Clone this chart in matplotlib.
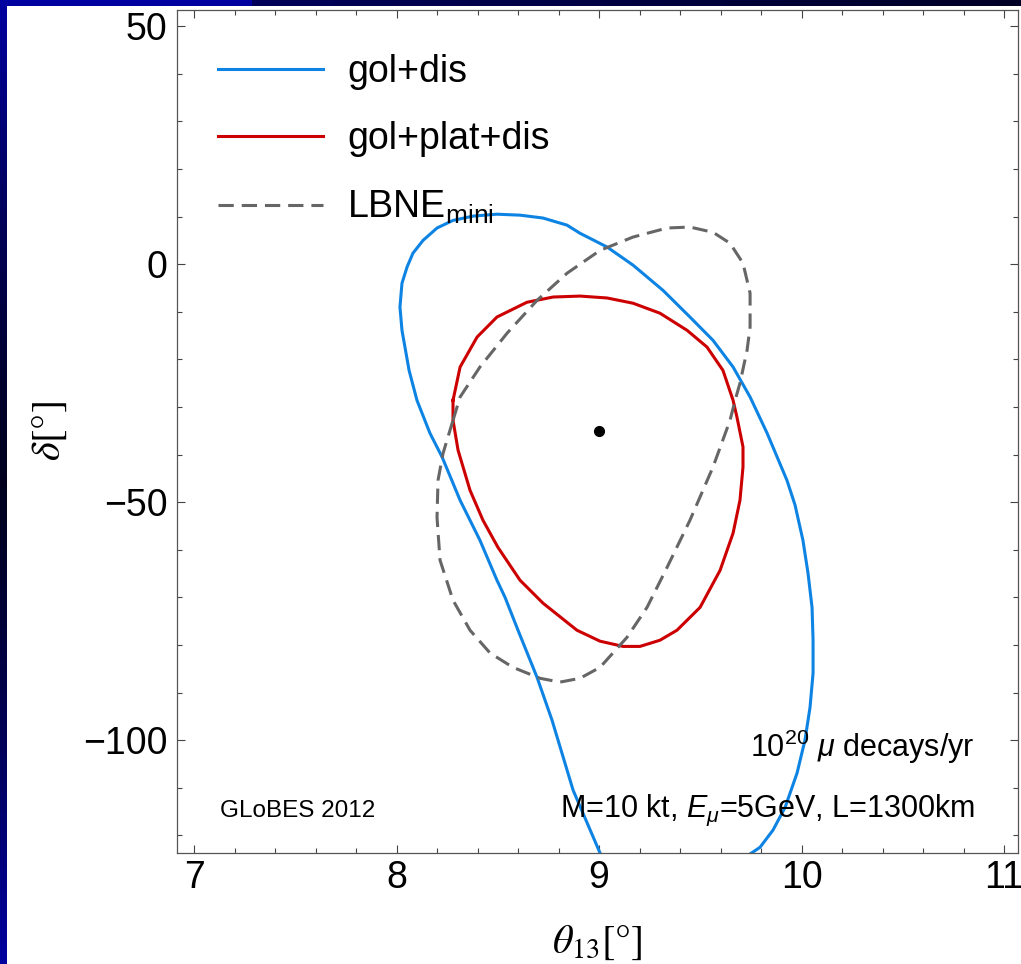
import numpy as np
import matplotlib
matplotlib.use('Agg')
import matplotlib.pyplot as plt

# contour: theta13 [deg], delta [deg]
gol_dis_theta = [9.005, 8.872, 8.768, 8.694, 8.600, 8.536, 8.496, 8.412, 8.314, 8.225,
                 8.165, 8.101, 8.062, 8.027, 8.017, 8.027, 8.052, 8.081, 8.131, 8.200,
                 8.279, 8.378, 8.496, 8.610, 8.723, 8.842, 8.906, 9.040, 9.168, 9.316,
                 9.449, 9.563, 9.662, 9.746, 9.830, 9.928, 9.968, 10.007, 10.032, 10.052,
                 10.057, 10.057, 10.042, 10.017, 9.978, 9.919, 9.859, 9.795, 9.736]
gol_dis_delta = [-123.7, -110.5, -95.8, -86.8, -76.9, -70.0, -66.4, -58.0, -49.6, -40.5,
                 -35.5, -28.6, -22.3, -13.9, -9.0, -4.0, -0.6, 2.3, 5.0, 7.6,
                 9.2, 10.1, 10.5, 10.3, 9.7, 8.2, 6.5, 3.6, -0.2, -5.5,
                 -11.1, -16.0, -21.6, -27.9, -35.5, -45.4, -50.6, -58.0, -64.9, -72.1,
                 -79.0, -85.9, -93.1, -100.0, -106.9, -114.1, -118.9, -122.5, -124.2]

gol_plat_theta = [8.279, 8.279, 8.304, 8.363, 8.427, 8.501, 8.610, 8.723, 8.891, 9.005,
                  9.119, 9.202, 9.301, 9.385, 9.499, 9.598, 9.662, 9.696, 9.711, 9.711,
                  9.681, 9.662, 9.612, 9.533, 9.435, 9.301, 9.168, 9.040, 8.906, 8.773,
                  8.644, 8.496, 8.398, 8.314, 8.279]
gol_plat_delta = [-28.6, -32.8, -39.1, -47.5, -53.8, -59.5, -66.4, -71.2, -76.9, -79.2,
                  -80.3, -80.3, -79.0, -76.9, -72.1, -64.3, -56.5, -49.6, -42.6, -38.4,
                  -32.1, -28.6, -22.3, -17.4, -13.9, -10.3, -8.2, -7.1, -6.7, -6.9,
                  -8.0, -11.1, -15.3, -21.6, -28.6]

lbne_theta = [8.279, 8.314, 8.412, 8.546, 8.694, 8.842, 9.005, 9.168, 9.336, 9.449,
              9.563, 9.647, 9.711, 9.746, 9.746, 9.731, 9.696, 9.672, 9.647, 9.563,
              9.449, 9.336, 9.237, 9.138, 9.005, 8.906, 8.807, 8.709, 8.575, 8.462,
              8.363, 8.279, 8.215, 8.200, 8.205, 8.230, 8.279]
lbne_delta = [-32.8, -27.9, -21.6, -14.5, -7.6, -1.9, 2.9, 5.7, 7.6, 7.8,
              6.7, 4.4, 0.2, -6.1, -13.2, -18.1, -25.0, -28.6, -32.8, -42.6,
              -53.8, -63.7, -72.1, -78.4, -84.7, -87.0, -87.8, -87.0, -84.7, -81.7,
              -76.9, -70.6, -62.2, -53.2, -45.4, -39.7, -32.8]

true_theta = [9.0]
true_delta = [-35.0]

plt.rcParams['font.family'] = ['Liberation Sans', 'DejaVu Sans']
plt.rcParams['mathtext.fontset'] = 'custom'
plt.rcParams['mathtext.rm'] = 'Liberation Sans'
plt.rcParams['mathtext.it'] = 'Liberation Sans:italic'
plt.rcParams['mathtext.bf'] = 'Liberation Sans:bold'

W, H = 1021, 964
fig = plt.figure(figsize=(W / 100, H / 100), dpi=100)

# slide background: blue strips on top and left edge
bg = np.ones((H, W, 3))
yy = np.arange(H) / H
b_left = 0.12 + 0.51 * (np.abs(yy - 0.5) * 2) ** 1.3
bg[:, :7, 0] = 0
bg[:, :7, 1] = 0
bg[:, :7, 2] = b_left[:, None]
xx = np.arange(W)
b_top = np.where(xx < 252, 0.63, 0.35 - 0.2 * (xx - 252) / (W - 252))
bg[:6, :, 0] = 0
bg[:6, :, 1] = 0
bg[:6, :, 2] = b_top[None, :]
axbg = fig.add_axes([0, 0, 1, 1], zorder=-1)
axbg.imshow(bg, aspect='auto', interpolation='nearest')
axbg.axis('off')

ax = fig.add_axes([177 / W, (H - 853) / H, (1018 - 177) / W, (853 - 10) / H])
ax.set_facecolor('none')

ax.plot(gol_dis_theta, gol_dis_delta, color='#0D84E3', lw=2.2, label='gol+dis')
ax.plot(gol_plat_theta, gol_plat_delta, color='#CC0000', lw=2.2, label='gol+plat+dis')
ax.plot(lbne_theta, lbne_delta, color='#666666', lw=2.2, dashes=(5, 2.6),
        label=r'LBNE$_{\mathrm{mini}}$')
ax.plot(true_theta, true_delta, 'o', color='black', ms=7)

ax.set_xticks([7, 8, 9, 10, 11])
ax.set_xticks(np.arange(6.0, 11.2, 0.2), minor=True)
ax.set_yticks([-100, -50, 0, 50])
ax.set_yticks(np.arange(-120, 60, 10), minor=True)
ax.set_xlim(6.916, 11.069)
ax.set_ylim(-123.7, 53.4)
ax.tick_params(which='both', direction='in', top=True, right=True,
               width=0.8, color='#444444', labelsize=27)
ax.tick_params(which='major', length=6)
ax.tick_params(which='minor', length=3.5)
ax.tick_params(axis='x', pad=5)
ax.tick_params(axis='y', pad=7)
for s in ax.spines.values():
    s.set_color('#555555')
    s.set_linewidth(0.9)

ax.set_xlabel(r'$\theta_{13}[°]$', fontsize=29, math_fontfamily='stix', labelpad=20)
ax.set_ylabel(r'$\delta[°]$', fontsize=29, math_fontfamily='stix', labelpad=10)

ax.legend(loc='upper left', bbox_to_anchor=(0.0488, 0.948), frameon=False,
          fontsize=27, handlelength=2.8, handletextpad=0.64, labelspacing=0.84,
          borderpad=0, borderaxespad=0)

ax.text(0.0511, 0.0427, 'GLoBES 2012', transform=ax.transAxes, fontsize=17.5,
        ha='left', va='baseline')
ax.text(0.9489, 0.0427, r'M=10 kt, $E_\mu$=5GeV, L=1300km', transform=ax.transAxes,
        fontsize=22, ha='right', va='baseline')
ax.text(0.9489, 0.1139, r'$10^{20}$ $\mu$ decays/yr', transform=ax.transAxes,
        fontsize=22, ha='right', va='baseline')

fig.savefig('out.png', dpi=100)
